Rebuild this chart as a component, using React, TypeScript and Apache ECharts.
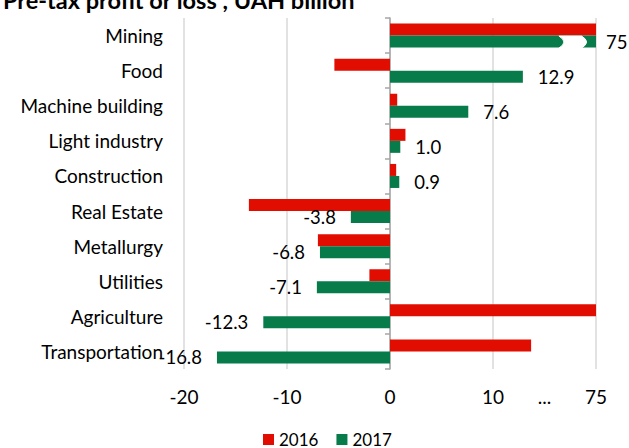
import React, { useEffect, useRef } from "react";
import * as echarts from "echarts";

const categories = [
  "Mining",
  "Food",
  "Machine building",
  "Light industry",
  "Construction",
  "Real Estate",
  "Metallurgy",
  "Utilities",
  "Agriculture",
  "Transportation",
];
// values in UAH billion; values beyond the axis break are drawn at the break end
const values2016 = [75, -5.4, 0.7, 1.5, 0.6, -13.7, -7.0, -2.0, 75, 13.7];
const values2017 = [75, 12.9, 7.6, 1.0, 0.9, -3.8, -6.8, -7.1, -12.3, -16.8];
const tickValues = [-20, -10, 0, 10, 20];
const labelValues = [-20, -10, 0, 10, 15, 20];
const breakLabel = "...";
const capLabel = "75";
const AXIS_CAP = 20;
const BREAK_FROM = 16.4;
const BREAK_TO = 18.6;

const RED = "#e00d00";
const GREEN = "#077b4a";
const FONT = "Lato";
const BAR_W = 12;

const shown = (v: number) => (v > AXIS_CAP ? AXIS_CAP : v);
const fmt = (v: number) => (v > AXIS_CAP ? String(v) : v.toFixed(1));

export default function App() {
  const ref = useRef<HTMLDivElement>(null);
  useEffect(() => {
    if (!ref.current) return;
    const chart = echarts.init(ref.current, null, { renderer: "svg" });
    const breakData = values2017
      .map((v, i) => (v > AXIS_CAP ? [i] : null))
      .filter((d) => d !== null);
    chart.setOption({
      animation: false,
      textStyle: { fontFamily: FONT },
      title: {
        text: "Pre-tax profit or loss , UAH billion",
        left: -2,
        top: -17,
        textStyle: { fontFamily: FONT, fontSize: 23.5, fontWeight: "bold", color: "#000" },
      },
      legend: {
        data: ["2016", "2017"],
        left: 258,
        top: 426,
        icon: "rect",
        itemWidth: 11,
        itemHeight: 11,
        itemGap: 18,
        textStyle: { fontFamily: FONT, fontSize: 17, color: "#000" },
      },
      grid: { left: 184, right: 33, top: 18, bottom: 79, containLabel: false },
      xAxis: {
        type: "value",
        min: -20,
        max: 20,
        interval: 10,
        axisLine: { show: false },
        axisTick: { show: false, customValues: tickValues },
        splitLine: { show: true, lineStyle: { color: "#d9d9d9", width: 1.5 } },
        axisLabel: {
          customValues: labelValues,
          margin: 18,
          fontFamily: FONT,
          fontSize: 19,
          color: "#000",
          formatter: (v: number) =>
            v === 15 ? breakLabel : v === 20 ? capLabel : String(v),
        },
      },
      yAxis: [
        {
          type: "category",
          data: categories,
          inverse: true,
          axisLine: { show: false, onZero: false },
          axisTick: { show: false },
          axisLabel: { margin: 21, fontFamily: FONT, fontSize: 19, color: "#000" },
        },
        {
          type: "category",
          data: categories,
          inverse: true,
          position: "left",
          axisLine: { show: true, onZero: true, lineStyle: { color: "#a6a6a6", width: 1.5 } },
          axisTick: { show: true, length: 5, lineStyle: { color: "#a6a6a6", width: 1.5 } },
          axisLabel: { show: false },
        },
      ],
      series: [
        {
          name: "2016",
          type: "bar",
          barWidth: BAR_W,
          barGap: "0%",
          itemStyle: { color: RED },
          data: values2016.map(shown),
        },
        {
          name: "2017",
          type: "bar",
          barWidth: BAR_W,
          barGap: "0%",
          itemStyle: { color: GREEN },
          data: values2017.map((v) => ({
            value: shown(v),
            label: {
              show: true,
              position: v < 0 ? "left" : "right",
              distance: v > AXIS_CAP ? 10 : 15,
              formatter: () => fmt(v),
              fontFamily: FONT,
              fontSize: 18.5,
              color: "#000",
            },
          })),
        },
        {
          type: "custom",
          silent: true,
          z: 10,
          data: breakData,
          encode: { y: 0 },
          renderItem: (params: any, api: any) => {
            const idx = api.value(0);
            const p0 = api.coord([BREAK_FROM, idx]);
            const p1 = api.coord([BREAK_TO, idx]);
            const yTop = p0[1] + 0.5;
            const yBot = p0[1] + BAR_W + 0.5;
            const yMid = (yTop + yBot) / 2;
            const b = 5;
            const d =
              `M${p0[0]} ${yTop} Q${p0[0] + b * 2} ${yMid} ${p0[0]} ${yBot} ` +
              `L${p1[0]} ${yBot} Q${p1[0] + b * 2} ${yMid} ${p1[0]} ${yTop} Z`;
            return {
              type: "path",
              shape: { pathData: d },
              style: { fill: "#fff", stroke: "#fff", lineWidth: 1 },
            };
          },
        },
      ],
    });
    return () => chart.dispose();
  }, []);
  return <div ref={ref} style={{ width: 629, height: 448, position: "absolute", left: 0, top: 0 }} />;
}
